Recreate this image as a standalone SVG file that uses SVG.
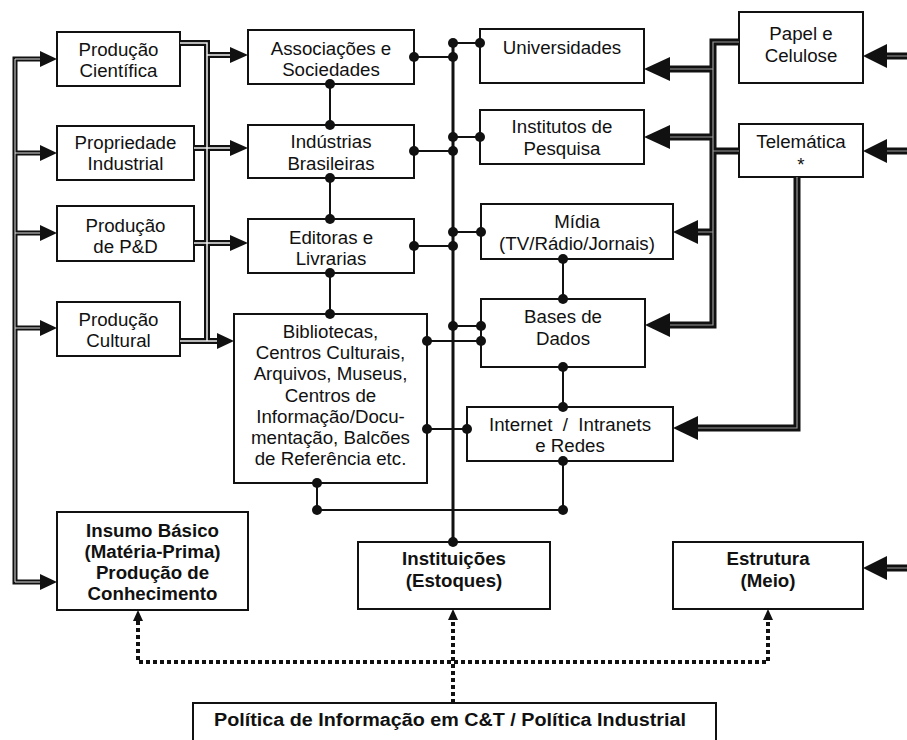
<svg xmlns="http://www.w3.org/2000/svg" width="907" height="740" viewBox="0 0 907 740">
<style>
.box{fill:#fff;stroke:#111;stroke-width:2}
.t{font-family:"Liberation Sans",Arial,sans-serif;font-size:18.7px;text-anchor:middle;fill:#111}
.b{font-weight:bold}
.thin{stroke:#111;stroke-width:2;fill:none}
.bus{stroke:#111;stroke-width:3;fill:none}
.dl{stroke:#111;stroke-width:5;fill:none}
.dm{stroke:#111;stroke-width:6;fill:none}
.dr{stroke:#111;stroke-width:7;fill:none}
.w1{stroke:#ddd;stroke-width:1;fill:none}
.w2{stroke:#eee;stroke-width:1.5;fill:none}
.w3{stroke:#999;stroke-width:1.2;fill:none}
.ah{fill:#111}
.dot{fill:#111}
.dash{stroke:#111;stroke-width:4;stroke-dasharray:4 3;fill:none}
</style>
<rect width="907" height="740" fill="#fff"/>
<g id="n-prod-cientifica"><rect class="box" x="57" y="32" width="123" height="54"/><text class="t" x="118.5" y="56">Produção</text><text class="t" x="118.5" y="77">Científica</text></g>
<g id="n-propriedade"><rect class="box" x="57" y="126" width="137" height="54"/><text class="t" x="125.5" y="149">Propriedade</text><text class="t" x="125.5" y="170">Industrial</text></g>
<g id="n-prod-pd"><rect class="box" x="57" y="206" width="137" height="55"/><text class="t" x="125.5" y="232">Produção</text><text class="t" x="125.5" y="253">de P&amp;D</text></g>
<g id="n-prod-cultural"><rect class="box" x="57" y="302" width="123" height="54"/><text class="t" x="118.5" y="326">Produção</text><text class="t" x="118.5" y="347">Cultural</text></g>
<g id="n-associacoes"><rect class="box" x="248" y="30" width="166" height="54"/><text class="t" x="331" y="55">Associações e</text><text class="t" x="331" y="76">Sociedades</text></g>
<g id="n-industrias"><rect class="box" x="248" y="125" width="166" height="53"/><text class="t" x="331" y="148">Indústrias</text><text class="t" x="331" y="170">Brasileiras</text></g>
<g id="n-editoras"><rect class="box" x="248" y="219" width="166" height="54"/><text class="t" x="331" y="244">Editoras e</text><text class="t" x="331" y="265">Livrarias</text></g>
<g id="n-bibliotecas"><rect class="box" x="234" y="314" width="193" height="169"/><text class="t" x="330.5" y="338">Bibliotecas,</text><text class="t" x="330.5" y="359">Centros Culturais,</text><text class="t" x="330.5" y="380">Arquivos, Museus,</text><text class="t" x="330.5" y="402">Centros de</text><text class="t" x="330.5" y="423">Informação/Docu-</text><text class="t" x="330.5" y="444">mentação, Balcões</text><text class="t" x="330.5" y="465">de Referência etc.</text></g>
<g id="n-universidades"><rect class="box" x="480" y="29" width="164" height="54"/><text class="t" x="562" y="54">Universidades</text></g>
<g id="n-institutos"><rect class="box" x="480" y="110" width="164" height="54"/><text class="t" x="562" y="133">Institutos de</text><text class="t" x="562" y="155">Pesquisa</text></g>
<g id="n-midia"><rect class="box" x="481" y="204" width="192" height="55"/><text class="t" x="577" y="228">Mídia</text><text class="t" x="577" y="250">(TV/Rádio/Jornais)</text></g>
<g id="n-bases"><rect class="box" x="481" y="299" width="164" height="68"/><text class="t" x="563" y="323">Bases de</text><text class="t" x="563" y="345">Dados</text></g>
<g id="n-internet"><rect class="box" x="467" y="407" width="206" height="54"/><text class="t" x="570" y="431" style="white-space:pre">Internet  /  Intranets</text><text class="t" x="570" y="452">e Redes</text></g>
<g id="n-papel"><rect class="box" x="739" y="12" width="124" height="71"/><text class="t" x="801" y="40">Papel e</text><text class="t" x="801" y="62">Celulose</text></g>
<g id="n-telematica"><rect class="box" x="739" y="124" width="124" height="53"/><text class="t" x="801" y="148">Telemática</text><text class="t" x="801" y="171">*</text></g>
<g id="n-insumo"><rect class="box" x="57" y="512" width="191" height="98"/><text class="t b" x="152.5" y="537">Insumo Básico</text><text class="t b" x="152.5" y="558">(Matéria-Prima)</text><text class="t b" x="152.5" y="579">Produção de</text><text class="t b" x="152.5" y="600">Conhecimento</text></g>
<g id="n-instituicoes"><rect class="box" x="358" y="542" width="192" height="67"/><text class="t b" x="454" y="565">Instituições</text><text class="t b" x="454" y="587">(Estoques)</text></g>
<g id="n-estrutura"><rect class="box" x="673" y="542" width="190" height="67"/><text class="t b" x="768" y="565">Estrutura</text><text class="t b" x="768" y="587">(Meio)</text></g>
<g id="n-politica"><rect class="box" x="193" y="703" width="523" height="60"/><text class="t b" x="450" y="726" textLength="472" lengthAdjust="spacingAndGlyphs">Política de Informação em C&amp;T / Política Industrial</text></g>
<g id="connectors">
<g class="dl"><path d="M40,59H15V582H40M15,153H40M15,233H40M15,328H40"/></g>
<g class="dm"><path d="M180,43H207V341M207,55H230M194,148H230M194,243H230M180,341H217"/></g>
<g class="dr"><path d="M739,42H713V325H670M713,69H670M713,137H670M713,151H739M713,232H698M797,177V428H698M907,56H887M907,151H887M907,568H887"/></g>
<g class="w1"><path d="M40,59H15V582H40M15,153H40M15,233H40M15,328H40"/></g>
<g class="w2"><path d="M180,43H207V341M207,55H230M194,148H230M194,243H230M180,341H217"/></g>
<g class="w3"><path d="M739,42H713V325H670M713,69H670M713,137H670M713,151H739M713,232H698M797,177V428H698M907,56H887M907,151H887M907,568H887"/></g>
<g class="ah">
<polygon points="57,59 40,51 40,67"/><polygon points="57,153 40,145 40,161"/><polygon points="57,233 40,225 40,241"/><polygon points="57,328 40,320 40,336"/><polygon points="57,582 40,574 40,590"/>
<polygon points="248,55 230,47 230,63"/><polygon points="248,148 230,140 230,156"/><polygon points="248,243 230,235 230,251"/><polygon points="234,341 217,333 217,349"/>
<polygon points="644,69 670,57 670,81"/><polygon points="644,137 670,125 670,149"/><polygon points="673,232 698,220 698,244"/><polygon points="645,325 670,313 670,337"/><polygon points="673,428 698,416 698,440"/>
<polygon points="863,56 887,44 887,68"/><polygon points="863,151 887,139 887,163"/><polygon points="863,568 887,556 887,580"/>
<polygon points="138,610 133,621 143,621"/><polygon points="453,609 448,620 458,620"/><polygon points="768,609 763,620 773,620"/>
</g>
<path class="bus" d="M453,43V542"/>
<path class="thin" d="M330,84V125M330,178V219M330,273V314M414,57H453M414,151H453M414,246H453M427,341H481M427,429H467M453,43H480M453,137H480M453,232H481M453,326H481M563,259V299M563,367V407M317,483V510H563V461"/>
<path class="dash" d="M138,621V662H768V621M453,703V621"/>
<g class="dot">
<circle cx="414" cy="57" r="5"/><circle cx="453" cy="57" r="5"/><circle cx="453" cy="43" r="5"/><circle cx="480" cy="43" r="5"/>
<circle cx="414" cy="151" r="5"/><circle cx="453" cy="151" r="5"/><circle cx="453" cy="137" r="5"/><circle cx="480" cy="137" r="5"/>
<circle cx="414" cy="246" r="5"/><circle cx="453" cy="246" r="5"/><circle cx="453" cy="232" r="5"/><circle cx="481" cy="232" r="5"/>
<circle cx="453" cy="326" r="5"/><circle cx="481" cy="326" r="5"/><circle cx="481" cy="341" r="5"/><circle cx="427" cy="341" r="5"/>
<circle cx="427" cy="429" r="5"/><circle cx="467" cy="429" r="5"/>
<circle cx="330" cy="84" r="5"/><circle cx="330" cy="125" r="5"/><circle cx="330" cy="178" r="5"/><circle cx="330" cy="219" r="5"/><circle cx="330" cy="273" r="5"/><circle cx="330" cy="314" r="5"/>
<circle cx="563" cy="259" r="5"/><circle cx="563" cy="299" r="5"/><circle cx="563" cy="367" r="5"/><circle cx="563" cy="407" r="5"/><circle cx="563" cy="461" r="5"/><circle cx="563" cy="510" r="5"/>
<circle cx="317" cy="483" r="5"/><circle cx="317" cy="510" r="5"/><circle cx="453" cy="542" r="5"/>
</g>
</g>
</svg>
